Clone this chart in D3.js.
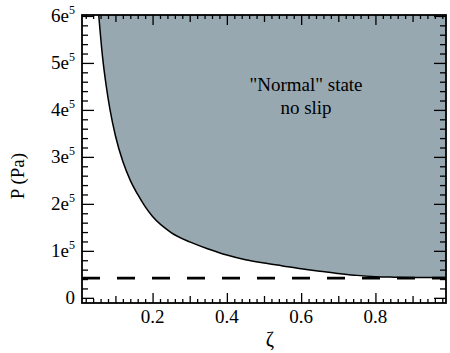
<!DOCTYPE html>
<html><head><meta charset="utf-8">
<script src="https://cdn.jsdelivr.net/npm/d3@7"></script>
</head><body style="margin:0">
<svg id="c" width="450" height="353"></svg>
<script>
// ---- data ----
const boundaryZeta = [0.055, 0.065, 0.075, 0.085, 0.10, 0.12, 0.14, 0.16, 0.18, 0.20, 0.25, 0.30, 0.35, 0.40, 0.45, 0.50, 0.55, 0.60, 0.65, 0.70, 0.75, 0.80, 0.85, 0.90, 0.99];
const boundaryP    = [602000, 515000, 452000, 402000, 345000, 290000, 250000, 220000, 194000, 173000, 139000, 119000, 104000, 91000, 81000, 74000, 68000, 61800, 56500, 52000, 47800, 45000, 44000, 43500, 43200];
const dashedP = [42000, 42000];
const dashedZeta = [0.01, 0.99];
const xMajorTicks = [0.2, 0.4, 0.6, 0.8];
const xTickLabels = ["0.2", "0.4", "0.6", "0.8"];
const yMajorTicks = [0, 100000, 200000, 300000, 400000, 500000, 600000];
const yTickMantissa = ["0", "1", "2", "3", "4", "5", "6"];
const regionLabel = ["\"Normal\" state", "no slip"];
const xTitle = "ζ";
const yTitle = "P (Pa)";

// ---- layout ----
const svg = d3.select("#c");
const L = 82, R = 446, T = 15, B = 303;
const x = d3.scaleLinear().domain([0.01, 0.99]).range([L, R]);
const y = d3.scaleLinear().domain([-11000, 602000]).range([B, T]);
const font = "'Times New Roman', 'Liberation Serif', monospace";

const pts = boundaryZeta.map((z, i) => [z, boundaryP[i]]);

svg.append("clipPath").attr("id", "clip").append("rect")
  .attr("x", L).attr("y", T).attr("width", R - L).attr("height", B - T);
const g = svg.append("g").attr("clip-path", "url(#clip)");

const area = d3.area()
  .x(d => x(d[0])).y0(y(602000) - 5).y1(d => y(d[1]))
  .curve(d3.curveMonotoneX);
const areaPts = pts.concat([[1.05, boundaryP[boundaryP.length - 1]]]);
g.append("path").datum(areaPts).attr("d", area).attr("fill", "#97a8b0");

g.append("path").datum(pts)
  .attr("d", d3.line().x(d => x(d[0])).y(d => y(d[1])).curve(d3.curveMonotoneX))
  .attr("fill", "none").attr("stroke", "#000").attr("stroke-width", 1.5);

g.append("path").datum(dashedZeta.map((z, i) => [z, dashedP[i]]))
  .attr("d", d3.line().x(d => x(d[0])).y(d => y(d[1])))
  .attr("fill", "none").attr("stroke", "#000").attr("stroke-width", 2.6)
  .attr("stroke-dasharray", "18,17");

// ---- axes ----
const xMinor = d3.range(1, 50).map(i => i * 0.02).filter(v => Math.abs(v * 10 - Math.round(v * 10)) > 1e-6);
const xMedium = [0.1, 0.3, 0.5, 0.7, 0.9];
const yMinor = d3.range(0, 31).map(i => i * 20000).filter(v => v % 100000 !== 0);

function axisStyle(sel) {
  sel.select(".domain").remove();
  sel.selectAll("line").attr("stroke", "#000").attr("stroke-width", 1.3);
}
function addX(vals, len) {
  svg.append("g").attr("transform", `translate(0,${B})`)
    .call(d3.axisBottom(x).tickValues(vals).tickSize(-len).tickFormat("")).call(axisStyle);
  svg.append("g").attr("transform", `translate(0,${T})`)
    .call(d3.axisTop(x).tickValues(vals).tickSize(-len).tickFormat("")).call(axisStyle);
}
addX(xMinor, 4);
addX(xMedium, 7);
addX(xMajorTicks, 10);
function addY(vals, len) {
  svg.append("g").attr("transform", `translate(${L},0)`)
    .call(d3.axisLeft(y).tickValues(vals).tickSize(-len).tickFormat("")).call(axisStyle);
  svg.append("g").attr("transform", `translate(${R},0)`)
    .call(d3.axisRight(y).tickValues(vals).tickSize(-len).tickFormat("")).call(axisStyle);
}
addY(yMinor, 6);
addY(yMajorTicks, 12);

svg.append("rect").attr("x", L).attr("y", T).attr("width", R - L).attr("height", B - T)
  .attr("fill", "none").attr("stroke", "#000").attr("stroke-width", 1.8);

// x labels
svg.append("g").selectAll("text").data(xMajorTicks).join("text")
  .attr("x", d => x(d)).attr("y", 323)
  .attr("text-anchor", "middle").style("font-family", font).style("font-size", "19px")
  .text((d, i) => xTickLabels[i]);

// y labels
const yl = svg.append("g").selectAll("text").data(yMajorTicks).join("text")
  .attr("x", 75).attr("y", d => y(d) + 6)
  .attr("text-anchor", "end").style("font-family", font).style("font-size", "19px");
yl.each(function (d, i) {
  const t = d3.select(this);
  if (d === 0) { t.text(yTickMantissa[i]); return; }
  t.append("tspan").text(yTickMantissa[i] + "e");
  t.append("tspan").style("font-size", "12px").attr("dy", -8).text("5");
});

svg.append("text").attr("x", 270).attr("y", 346).attr("text-anchor", "middle")
  .style("font-family", font).style("font-size", "20px").text(xTitle);
svg.append("text").attr("transform", "translate(24,176) rotate(-90)").attr("text-anchor", "middle")
  .style("font-family", font).style("font-size", "19px").text(yTitle);

svg.append("g").selectAll("text").data(regionLabel).join("text")
  .attr("x", 306).attr("y", (d, i) => 91 + i * 23)
  .attr("text-anchor", "middle").style("font-family", font).style("font-size", "19px")
  .text(d => d);
</script>
</body></html>
